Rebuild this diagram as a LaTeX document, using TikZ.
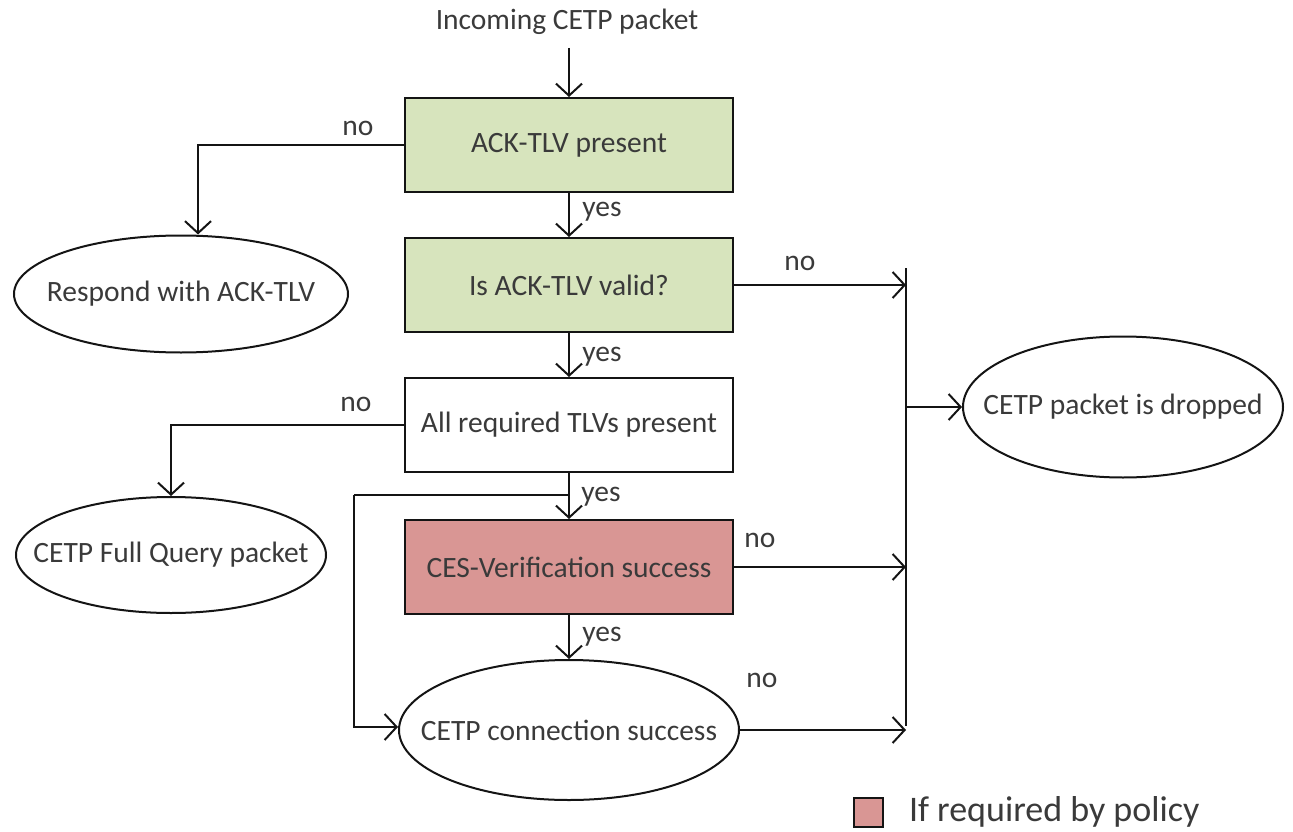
\documentclass[tikz,border=0pt]{standalone}
\usepackage{fontspec}
\setmainfont{Carlito}
\usetikzlibrary{arrows.meta,shapes.geometric}
\definecolor{boxgreen}{RGB}{215,228,189}
\definecolor{boxred}{RGB}{217,150,148}
\definecolor{txt}{RGB}{58,58,58}
\definecolor{ln}{RGB}{20,20,20}
\newcommand{\zw}[1]{\makebox[0pt]{#1}}
\begin{document}
\begin{tikzpicture}[x=1pt,y=-1pt,line width=2pt,
  every node/.style={text=txt},
  box/.style={draw=ln,rectangle,minimum width=328pt,minimum height=94pt,inner sep=0pt,font=\fontsize{29.5}{34}\selectfont},
  oval/.style={draw=ln,ellipse,inner sep=0pt,font=\fontsize{29.5}{34}\selectfont},
  lbl/.style={font=\fontsize{29.5}{34}\selectfont,inner sep=0pt},
  arr/.style={draw=ln,-{Straight Barb[length=12pt,width=26pt,line width=2pt]}},
  con/.style={draw=ln}]
\useasboundingbox (0,0) rectangle (1293,832);

\node[lbl] (in) at (567,22) {Incoming CETP packet};
\node[box,fill=boxgreen] (b1) at (569,145) {ACK-TLV present};
\node[box,fill=boxgreen] (b2) at (569,285) {Is ACK-TLV valid?};
\node[box,fill=white] (b3) at (569,425) {All required TLVs present};
\node[box,fill=boxred] (b4) at (569,567) {CES-Verification success};
\node[oval,minimum width=334pt,minimum height=117pt] (e1) at (181,294) {\zw{Respond with ACK-TLV}};
\node[oval,minimum width=310pt,minimum height=116pt] (e2) at (171,555) {\zw{CETP Full Query packet}};
\node[oval,minimum width=340pt,minimum height=140pt] (e3) at (569,730) {\zw{CETP connection success}};
\node[oval,minimum width=320pt,minimum height=141pt] (e4) at (1123,407) {\zw{CETP packet is dropped}};

\coordinate (bustop) at (906,268);
\coordinate (busbot) at (906,726);
\coordinate (split) at (569,495);
\coordinate (loopc) at (354,495);

\draw[arr] (b1.north |- in.south) ++(0,12) -- (b1.north);
\draw[arr] (b1.west) -| ([xshift=17pt]e1.north);
\draw[arr] (b1.south) -- (b2.north);
\draw[arr] (b2.south) -- (b3.north);
\draw[arr] (b3.west) -| (e2.north);
\draw[arr] (b3.south) -- (b4.north);
\draw[con] (split) -- (loopc);
\draw[arr] (loopc) |- ([yshift=3pt]e3.west);
\draw[arr] (b4.south) -- (e3.north);
\draw[con] (bustop) -- (busbot);
\draw[arr] (b2.east) -- (b2.east -| bustop);
\draw[arr] (b4.east) -- (b4.east -| bustop);
\draw[arr] (e3.east) -- (e3.east -| bustop);
\draw[arr] (bustop |- e4.west) -- (e4.west);

\node[lbl] (n1) at (358,128) {no};
\node[lbl] (y1) at (602,212) {yes};
\node[lbl] (n2) at (800,263) {no};
\node[lbl] (y2) at (602,357) {yes};
\node[lbl] (n3) at (356,404) {no};
\node[lbl] (y3) at (601,497) {yes};
\node[lbl] (n4) at (760,540) {no};
\node[lbl] (y4) at (602,637) {yes};
\node[lbl] (n5) at (762,680) {no};

\node[draw=ln,fill=boxred,minimum size=29pt,inner sep=0pt] (leg) at (868,812) {};
\node[anchor=west,font=\fontsize{36}{42}\selectfont,inner sep=0pt] (legt) at (908,812) {If required by policy};
\end{tikzpicture}
\end{document}
